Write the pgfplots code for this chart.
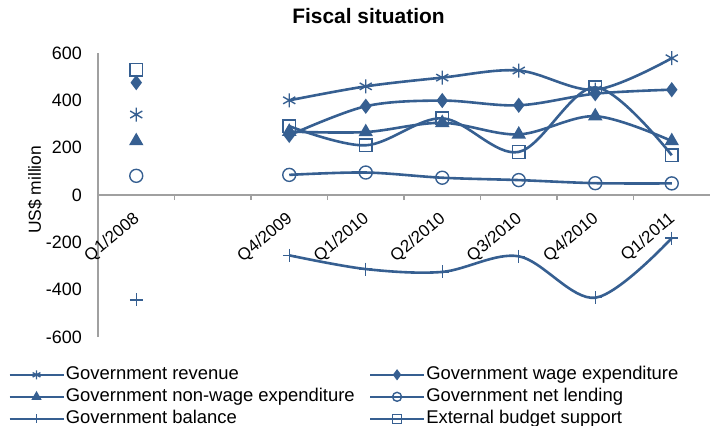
\documentclass[border=0pt]{standalone}
\usepackage{pgfplots}
\pgfplotsset{compat=1.18}
\usepackage{fontspec}
\setmainfont{Liberation Sans}
\definecolor{serblue}{HTML}{365F91}
\definecolor{axgray}{HTML}{A0A0A0}

\begin{document}
\begin{tikzpicture}
\path[use as bounding box] (0bp,0bp) rectangle (710bp,426bp);
\begin{axis}[
  at={(98bp,89bp)}, anchor=south west,
  scale only axis, width=612bp, height=284bp,
  xmin=-0.5, xmax=7.5, ymin=-600, ymax=600,
  axis x line=middle, axis y line=left,
  axis line style={-, axgray, line width=1.3bp},
  clip=false,
  xtick={0,...,7},
  xticklabels={Q1/2008,,Q4/2009,Q1/2010,Q2/2010,Q3/2010,Q4/2010,Q1/2011},
  minor xtick={0.5,1.5,...,6.5},
  ytick={-600,-400,...,600},
  major tick length=0pt,
  minor tick length=5bp,
  tick align=outside,
  minor tick style={axgray, line width=1.3bp},
  /pgf/number format/assume math mode=true,
  xticklabel style={font=\fontsize{17}{20}\selectfont, yshift=-22bp, xshift=1bp,
                    rotate=40, anchor=east, inner sep=0pt},
  yticklabel style={font=\fontsize{18}{21}\selectfont, anchor=east,
                    inner sep=0pt, xshift=-16bp},
  title={Fiscal situation},
  title style={at={(axis description cs:0.442,1.109)}, anchor=center,
               font=\bfseries\fontsize{21}{24}\selectfont},
  ylabel={US\$ million},
  ylabel style={at={(axis description cs:-0.103,0.518)}, anchor=center,
                font=\fontsize{17.5}{20}\selectfont},
  every axis plot/.append style={serblue, line width=2.6bp, smooth, tension=0.55,
                                 mark options={solid, line width=1.4bp}},
  legend columns=2,
  legend cell align=left,
  legend style={at={(axis description cs:-0.147,-0.099)}, anchor=north west,
                draw=none, fill=none, inner sep=0pt, row sep=3bp,
                nodes={inner sep=1bp, text height=13.5bp, text depth=3.5bp,
                       font=\fontsize{18.5}{21}\selectfont},
                /tikz/every even column/.append style={column sep=13bp}},
  legend image code/.code={\draw[mark repeat=2, mark phase=2, #1]
      plot coordinates {(0bp,0bp) (27bp,0bp) (54bp,0bp)};},
  legend image post style={mark size=4.5bp},
]

% Government revenue
\addplot[mark=asterisk, mark size=7bp] coordinates {
  (2,400) (3,459) (4,496) (5,526) (6,445) (7,578)};
\addlegendentry{Government revenue}
% Government wage expenditure
\addplot[mark=diamond*, mark size=6.5bp] coordinates {
  (2,252) (3,375) (4,399) (5,379) (6,428) (7,445)};
\addlegendentry{Government wage expenditure}
% Government non-wage expenditure
\addplot[mark=triangle*, mark size=7bp] coordinates {
  (2,268) (3,266) (4,305) (5,256) (6,333) (7,228)};
\addlegendentry{Government non-wage expenditure}
% Government net lending
\addplot[mark=o, mark size=6.5bp] coordinates {
  (2,85) (3,95) (4,73) (5,63) (6,50) (7,49)};
\addlegendentry{Government net lending}
% Government balance
\addplot[mark=+, mark size=6.5bp] coordinates {
  (2,-255) (3,-313) (4,-325) (5,-259) (6,-434) (7,-182)};
\addlegendentry{Government balance}
% External budget support
\addplot[mark=square, mark size=6.3bp] coordinates {
  (2,291) (3,210) (4,324) (5,182) (6,455) (7,168)};
\addlegendentry{External budget support}

% Q1/2008 stand-alone values
\addplot[forget plot, only marks, mark=asterisk, mark size=7bp] coordinates {(0,340)};
\addplot[forget plot, only marks, mark=diamond*, mark size=6.5bp] coordinates {(0,475)};
\addplot[forget plot, only marks, mark=triangle*, mark size=7bp] coordinates {(0,228)};
\addplot[forget plot, only marks, mark=o, mark size=6.5bp] coordinates {(0,81)};
\addplot[forget plot, only marks, mark=+, mark size=6.5bp] coordinates {(0,-443)};
\addplot[forget plot, only marks, mark=square, mark size=6.3bp] coordinates {(0,529)};

\end{axis}
\end{tikzpicture}
\end{document}
